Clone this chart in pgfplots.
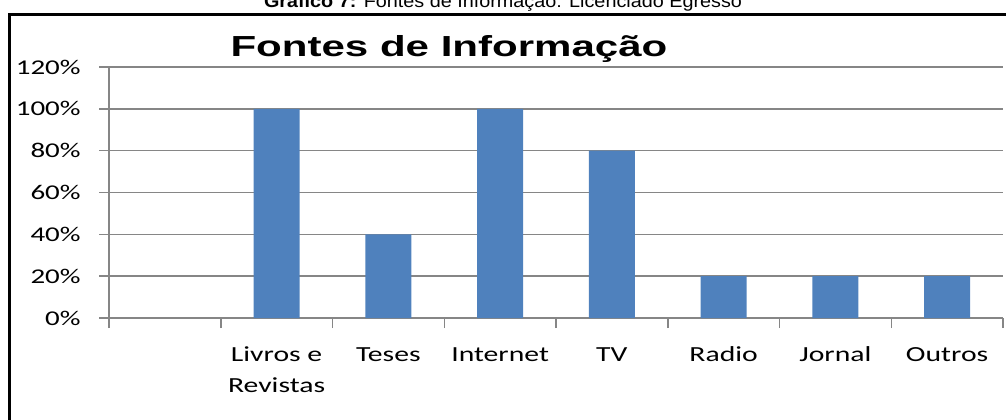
\documentclass[border=0pt]{standalone}
\usepackage{fontspec}
\usepackage{pgfplots}
\pgfplotsset{compat=1.18}
\newfontfamily\catfont[FakeStretch=1.38]{Carlito}
\newfontfamily\titlefont[FakeStretch=1.45]{Liberation Sans}
\newfontfamily\capfont[FakeStretch=1.1]{Liberation Sans}
\definecolor{barblue}{RGB}{79,129,189}
\definecolor{gridgray}{RGB}{134,134,134}

\begin{document}
\begin{tikzpicture}
\useasboundingbox (0pt,0pt) rectangle (503pt,209.5pt);
\clip (0pt,0pt) rectangle (503pt,209.5pt);

% cut-off caption above the chart frame
\node[anchor=base, inner sep=0pt, font=\capfont\fontsize{9}{10}\selectfont]
  at (251.5pt,206pt) {\textbf{Gráfico 7:} Fontes de Informação: Licenciado Egresso};

% chart frame (only left and top edges visible)
\draw[line width=1.5pt] (4.5pt,-5pt) -- (4.5pt,202.5pt) -- (510pt,202.5pt);

\node[anchor=base, inner sep=0pt, font=\titlefont\bfseries\fontsize{14.5}{16}\selectfont]
  at (224.5pt,181.5pt) {Fontes de Informação};

\begin{axis}[
    at={(54.5pt,50.5pt)}, anchor=south west,
    scale only axis,
    width=447pt, height=125.5pt,
    xmin=-0.5, xmax=7.5,
    ymin=0, ymax=120,
    axis x line*=bottom, axis y line*=left,
    axis line style={draw=gridgray, line width=0.75pt},
    xtick={-0.5,0.5,...,7.5},
    x tick label as interval,
    xticklabels={{},{Livros e\\Revistas},Teses,Internet,TV,Radio,Jornal,Outros},
    typeset ticklabels with strut,
    ytick={0,20,...,120},
    yticklabel={\pgfmathprintnumber[assume math mode=true]{\tick}\%},
    tick align=outside,
    major tick length=5pt,
    tick style={draw=gridgray, line width=0.75pt},
    ymajorgrids,
    grid style={draw=gridgray, line width=0.75pt},
    xticklabel style={font=\catfont\fontsize{10.75}{15.5}\selectfont, align=center, anchor=north, inner sep=0pt, yshift=-5.5pt},
    yticklabel style={font=\catfont\fontsize{10.5}{12}\selectfont, anchor=east, inner sep=0pt, xshift=-9pt},
    ybar, bar width=0.41,
  ]
  \addplot[fill=barblue, draw=none] coordinates {
    (1,100) (2,40) (3,100) (4,80) (5,20) (6,20) (7,20)
  };
\end{axis}
\end{tikzpicture}
\end{document}
